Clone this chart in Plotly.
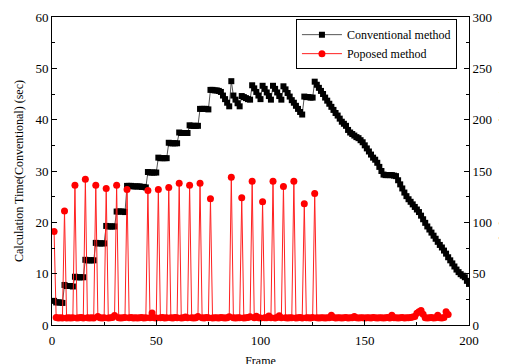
import plotly.graph_objects as go

frames = list(range(1, 201))

conventional_sec = [
    4.7, 4.4, 4.4, 4.4, 4.3,
    7.8, 7.6, 7.6, 7.6, 7.5,
    9.4, 9.3, 9.3, 9.3, 9.3,
    12.7, 12.6, 12.6, 12.6, 12.6,
    16.0, 15.9, 15.9, 15.9, 15.9,
    19.3, 19.2, 19.2, 19.2, 19.2,
    22.1, 22.1, 22.1, 22.1, 22.0,
    27.1, 27.1, 27.1, 27.0, 27.0, 27.0, 27.0, 26.9, 26.9, 26.8,
    29.8, 29.7, 29.7, 29.7, 29.7,
    32.6, 32.5, 32.5, 32.5, 32.5,
    35.5, 35.4, 35.4, 35.4, 35.4,
    37.5, 37.4, 37.4, 37.4, 37.4,
    38.9, 38.8, 38.8, 38.8, 38.8,
    42.1, 42.1, 42.1, 42.1, 42.0,
    45.8, 45.8, 45.7, 45.7, 45.6,
    45.4, 44.7, 44.0, 43.3, 42.6,
    47.5, 44.7, 43.9, 43.2, 42.6,
    44.6, 44.4, 44.2, 44.0, 43.9,
    46.7, 46.1, 45.4, 44.7, 44.0,
    46.6, 46.0, 45.3, 44.6, 43.9,
    46.6, 46.0, 45.3, 44.6, 43.9,
    46.5, 45.9, 45.2, 44.5, 43.8,
    43.3, 42.7, 42.1, 41.5, 41.0,
    44.5, 44.4, 44.4, 44.3, 44.3,
    47.4, 46.8, 46.2, 45.6, 45.0,
    44.3, 43.7, 43.1, 42.5, 41.9,
    41.3, 40.8, 40.2, 39.6, 39.2,
    38.8, 38.0, 37.5, 37.2, 36.9,
    36.6, 36.4, 36.0, 35.6, 35.0,
    34.4, 33.8, 33.2, 32.6, 32.2,
    31.6, 30.8, 30.0, 29.3, 29.2,
    29.2, 29.2, 29.2, 29.1, 29.0,
    28.2, 27.4, 26.6, 25.8, 25.1,
    24.5, 24.0, 23.5, 23.0, 22.5,
    22.0, 21.3, 20.6, 19.9, 19.2,
    18.6, 18.0, 17.4, 16.8, 16.2,
    15.6, 15.1, 14.5, 13.9, 13.2,
    12.6, 12.0, 11.4, 10.8, 10.3,
    9.9, 9.6, 9.3, 8.6, 8.0,
]

proposed_ms = [
    91, 7.2, 6.8, 7.0, 6.9,
    111, 6.7, 7.1, 6.9, 7.0,
    136, 6.8, 7.0, 7.3, 6.9,
    142, 7.0, 6.8, 7.1, 6.9,
    136, 8.2, 7.0, 6.9, 7.1,
    133, 6.8, 7.0, 7.2, 9.3,
    136, 7.1, 6.9, 7.0, 7.3,
    132, 7.0, 7.2, 6.9, 7.1, 6.8, 7.0, 7.2, 6.9, 7.1,
    131, 7.0, 11.8, 7.1, 6.9,
    132, 7.0, 7.2, 6.8, 7.1,
    134, 7.0, 6.9, 7.2, 7.0,
    138, 6.9, 7.1, 7.8, 7.0,
    136, 7.1, 6.8, 7.0, 8.3,
    138, 7.0, 6.9, 7.2, 7.0,
    123, 6.9, 7.1, 7.0, 6.8, 7.2, 7.0, 6.9, 7.1, 8.0,
    144, 7.0, 6.9, 7.1, 7.0,
    124, 6.8, 7.0, 7.2, 8.1,
    140, 7.0, 8.6, 7.1, 6.9,
    120, 7.0, 7.1, 8.8, 7.0,
    140, 6.9, 7.2, 9.0, 7.1,
    135, 7.0, 6.9, 7.1, 7.0,
    140, 6.9, 7.0, 7.2, 6.9,
    118, 7.1, 7.0, 6.8, 7.2,
    128, 7.0, 6.9, 7.1, 7.0,
    6.8, 7.1, 7.0, 9.6, 7.2, 6.9, 7.0, 7.1, 6.8, 7.0,
    7.2, 6.9, 7.1, 7.0, 8.2, 7.0, 6.9, 7.1, 7.0, 6.8,
    7.1, 7.0, 6.9, 7.2, 7.0, 6.8, 7.0, 7.1, 6.9, 7.0,
    7.2, 6.9, 9.6, 7.1, 7.0, 6.9, 7.0, 7.2, 6.8, 7.1,
    7.0, 7.3, 7.8, 8.4, 11.5, 12.8, 14.2, 10.5, 7.1, 6.9,
    7.0, 7.2, 6.9, 7.1, 9.6, 7.0, 6.9, 7.2, 13.0, 10.2,
]

x_ticks = [0, 50, 100, 150, 200]

fig = go.Figure()
fig.add_trace(go.Scatter(
    x=frames, y=conventional_sec, name="Conventional method",
    mode="lines+markers",
    line=dict(color="#555555", width=1),
    marker=dict(symbol="square", size=6, color="black"),
    yaxis="y",
))
fig.add_trace(go.Scatter(
    x=frames, y=proposed_ms, name="Poposed method",
    mode="lines+markers",
    line=dict(color="#ff2020", width=1),
    marker=dict(symbol="circle", size=7, color="#ff0000"),
    yaxis="y2",
))

font = "Liberation Serif, Times New Roman, serif"
fig.update_layout(
    width=507, height=364,
    margin=dict(l=44, r=46, t=9, b=47),
    paper_bgcolor="white", plot_bgcolor="white",
    font=dict(family=font, size=13, color="black"),
    showlegend=True,
    legend=dict(
        x=0.585, y=0.993, xanchor="left", yanchor="top",
        bgcolor="white", bordercolor="black", borderwidth=1,
        font=dict(family=font, size=12), tracegroupgap=0,
        itemwidth=40,
    ),
    xaxis=dict(
        range=[0, 200], tickvals=x_ticks, showgrid=False, zeroline=False,
        showline=True, linecolor="black", linewidth=1, mirror=True,
        ticks="inside", ticklen=5, tickcolor="black",
        minor=dict(ticks="inside", dtick=25, ticklen=3, tickcolor="black"),
        ticklabelstandoff=3,
        title=dict(text="Frame", standoff=10, font=dict(size=12)),
        automargin=False,
    ),
    yaxis=dict(
        range=[0, 60], dtick=10, showgrid=False, zeroline=False,
        showline=True, linecolor="black", linewidth=1,
        ticks="inside", ticklen=5, tickcolor="black",
        minor=dict(ticks="inside", dtick=5, ticklen=3, tickcolor="black"),
        title=dict(text="Calculation Time(Conventional) (sec)", standoff=9, font=dict(size=12)),
        automargin=False,
    ),
    yaxis2=dict(
        range=[0, 300], dtick=50, overlaying="y", side="right",
        showgrid=False, zeroline=False,
        showline=True, linecolor="black", linewidth=1,
        ticks="inside", ticklen=5, tickcolor="black",
        minor=dict(ticks="inside", dtick=25, ticklen=3, tickcolor="black"),
        title=dict(text="Calculation Time (Proposed) (ms)", standoff=8, font=dict(size=12)),
        automargin=False,
    ),
)

fig.write_html("out.html")
